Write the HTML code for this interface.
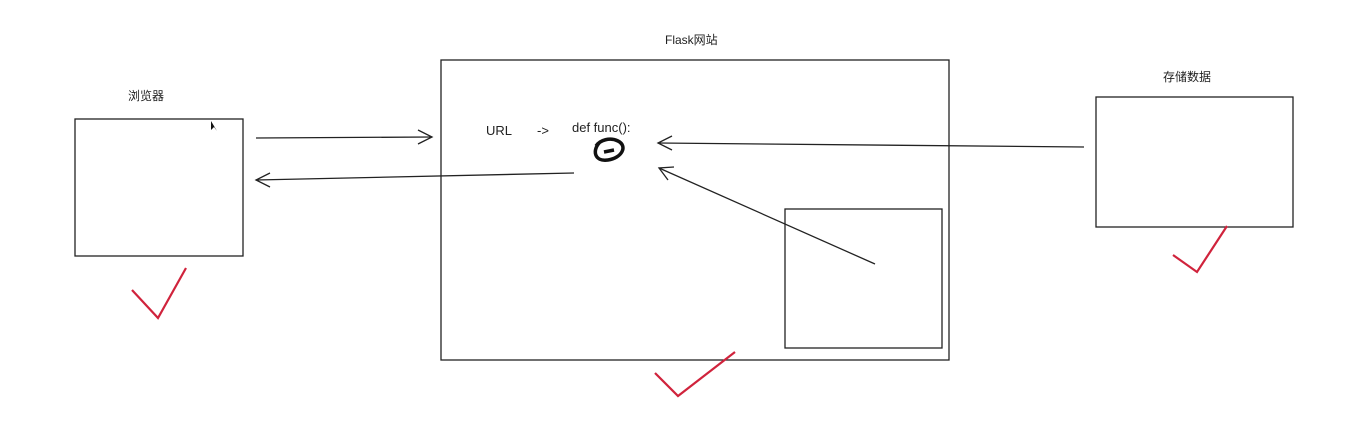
<!DOCTYPE html>
<html><head><meta charset="utf-8"><style>
body{margin:0;background:#fff;}
svg{display:block;font-family:"Liberation Sans","Noto Sans CJK SC",sans-serif;}
</style></head><body>
<svg width="1354" height="425" viewBox="0 0 1354 425">
<rect width="1354" height="425" fill="#fff"/>
<g fill="none" stroke="#222" stroke-width="1.3">
<rect x="75" y="119" width="168" height="137"/>
<rect x="441" y="60" width="508" height="300"/>
<rect x="785" y="209" width="157" height="139"/>
<rect x="1096" y="97" width="197" height="130"/>
<g><path d="M256 138 L432 137"/><path d="M418 130 L432 137 L418 144"/></g>
<g><path d="M574 173 L256 180"/><path d="M270 173 L256 180 L270 187"/></g>
<g><path d="M1084 147 L658 143"/><path d="M672 136 L658 143 L672 150"/></g>
<g><path d="M875 264 L659 168"/><path d="M674 167 L659 168 L668 180"/></g>
</g>
<g fill="none" stroke="#111" stroke-width="3.5">
<path d="M600 142 C592 150 594 162 608 160 C622 158 628 146 618 141 C610 137 600 140 596 146"/>
<path d="M604 152 L614 150"/>
</g>
<g fill="none" stroke="#d0233c" stroke-width="2.2">
<path d="M132 290 L158 318 L186 268"/>
<path d="M655 373 L678 396 L735 352"/>
<path d="M1173 255 L1197 272 L1227 226"/>
</g>
<g fill="#222" font-size="12">
<text x="128" y="100">浏览器</text>
<text x="665" y="44">Flask网站</text>
<text x="1163" y="81">存储数据</text>
<text x="486" y="135" font-size="13">URL</text>
<text x="537" y="135" font-size="13">-&gt;</text>
<text x="572" y="132" font-size="13">def func():</text>
</g>
<path d="M211 121 L211 130 L214 127 L217 131 Z" fill="#111"/>
</svg>
</body></html>
